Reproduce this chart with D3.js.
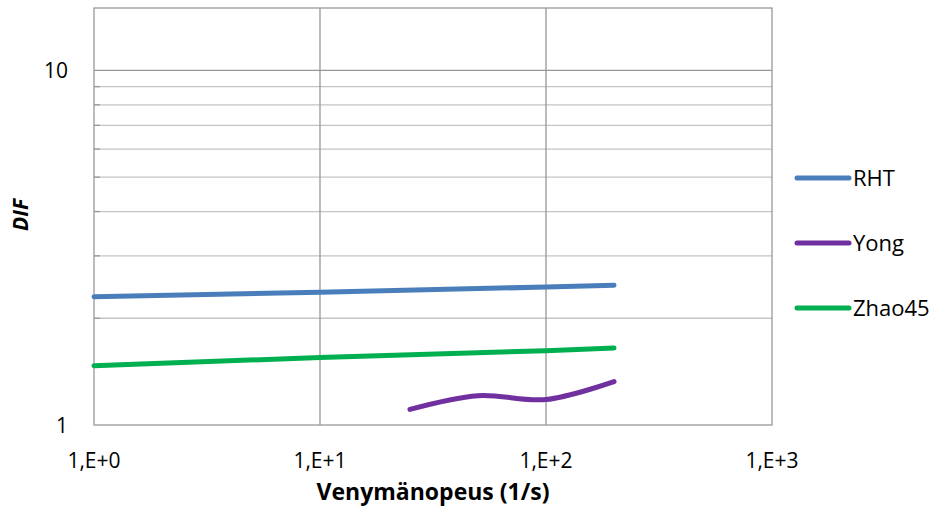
<!DOCTYPE html>
<html>
<head>
<meta charset="utf-8">
<script src="https://cdn.jsdelivr.net/npm/d3@7"></script>
<style>
  body { margin: 0; background: #fff; }
  svg { display: block; font-family: "Open Sans", "Noto Sans", sans-serif; }
</style>
</head>
<body>
<svg id="chart"></svg>
<script>
// data
const rhtX = [1, 10, 100, 200];
const rhtY = [2.30, 2.37, 2.45, 2.48];
const yongX = [25, 50, 100, 200];
const yongY = [1.107, 1.21, 1.18, 1.325];
const zhaoX = [1, 10, 100, 200];
const zhaoY = [1.47, 1.55, 1.62, 1.65];
const xTicks = [1, 10, 100, 1000];
const xTickLabels = ["1,E+0", "1,E+1", "1,E+2", "1,E+3"];
const yTicks = [1, 10];
const yMinor = [2, 3, 4, 5, 6, 7, 8, 9];
const seriesNames = ["RHT", "Yong", "Zhao45"];
const seriesColors = ["#4a7ebb", "#7030a0", "#00b050"];

const width = 935, height = 511;
const margin = {left: 94, right: 163, top: 8, bottom: 86};

const svg = d3.select("#chart")
    .attr("width", width)
    .attr("height", height);

const x = d3.scaleLog()
    .domain([1, 1000])
    .range([margin.left, width - margin.right]);

const y = d3.scaleLog()
    .domain([1, 15])
    .range([height - margin.bottom, margin.top]);

// minor horizontal gridlines
svg.append("g")
    .selectAll("line")
    .data(yMinor)
    .enter()
    .append("line")
    .attr("x1", x(1))
    .attr("x2", x(1000))
    .attr("y1", d => y(d))
    .attr("y2", d => y(d))
    .attr("stroke", "#c4c4c4")
    .attr("stroke-width", 1.3);

// minor tick stubs on the y axis
svg.append("g")
    .selectAll("line")
    .data(yMinor)
    .enter()
    .append("line")
    .attr("x1", x(1))
    .attr("x2", x(1) + 6)
    .attr("y1", d => y(d))
    .attr("y2", d => y(d))
    .attr("stroke", "#999")
    .attr("stroke-width", 1.3);

// major gridlines
svg.append("g")
    .selectAll("line")
    .data(yTicks.slice(1))
    .enter()
    .append("line")
    .attr("x1", x(1))
    .attr("x2", x(1000))
    .attr("y1", d => y(d))
    .attr("y2", d => y(d))
    .attr("stroke", "#969696")
    .attr("stroke-width", 1.3);

svg.append("g")
    .selectAll("line")
    .data(xTicks.slice(1, 3))
    .enter()
    .append("line")
    .attr("x1", d => x(d))
    .attr("x2", d => x(d))
    .attr("y1", y(15))
    .attr("y2", y(1))
    .attr("stroke", "#969696")
    .attr("stroke-width", 1.3);

// plot border
svg.append("rect")
    .attr("x", x(1))
    .attr("y", y(15))
    .attr("width", x(1000) - x(1))
    .attr("height", y(1) - y(15))
    .attr("fill", "none")
    .attr("stroke", "#999")
    .attr("stroke-width", 1.3);

// axes labels
svg.append("g")
    .selectAll("text")
    .data(xTicks)
    .enter()
    .append("text")
    .attr("x", d => x(d))
    .attr("y", 468)
    .attr("text-anchor", "middle")
    .attr("font-size", 21)
    .attr("fill", "#000")
    .text((d, i) => xTickLabels[i]);

svg.append("g")
    .selectAll("text")
    .data(yTicks)
    .enter()
    .append("text")
    .attr("x", 68)
    .attr("y", d => y(d) + 8)
    .attr("text-anchor", "end")
    .attr("font-size", 21)
    .attr("fill", "#000")
    .text(d => d);

svg.append("text")
    .attr("x", 433)
    .attr("y", 500)
    .attr("text-anchor", "middle")
    .attr("font-size", 23)
    .attr("font-weight", "bold")
    .text("Venymänopeus (1/s)");

svg.append("text")
    .attr("transform", "translate(28,215) rotate(-90)")
    .attr("text-anchor", "middle")
    .attr("font-size", 21)
    .attr("font-weight", "bold")
    .attr("font-style", "italic")
    .text("DIF");

// series
const line = d3.line()
    .x(d => x(d[0]))
    .y(d => y(d[1]));

const series = [
    d3.zip(rhtX, rhtY),
    d3.zip(yongX, yongY),
    d3.zip(zhaoX, zhaoY)
];

series.forEach((pts, i) => {
    svg.append("path")
        .datum(pts)
        .attr("d", i === 1 ? line.curve(d3.curveCatmullRom.alpha(0.5))(pts) : line.curve(d3.curveLinear)(pts))
        .attr("fill", "none")
        .attr("stroke", seriesColors[i])
        .attr("stroke-width", 5)
        .attr("stroke-linecap", "round")
        .attr("stroke-linejoin", "round");
});

// legend
const legendY = [178, 243, 308];
const legend = svg.append("g")
    .selectAll("g")
    .data(seriesNames)
    .enter()
    .append("g")
    .attr("transform", (d, i) => "translate(0," + legendY[i] + ")");

legend.append("line")
    .attr("x1", 797)
    .attr("x2", 849)
    .attr("stroke", (d, i) => seriesColors[i])
    .attr("stroke-width", 5)
    .attr("stroke-linecap", "round");

legend.append("text")
    .attr("x", 853)
    .attr("y", 8)
    .attr("font-size", 22)
    .attr("fill", "#000")
    .text(d => d);
</script>
</body>
</html>
